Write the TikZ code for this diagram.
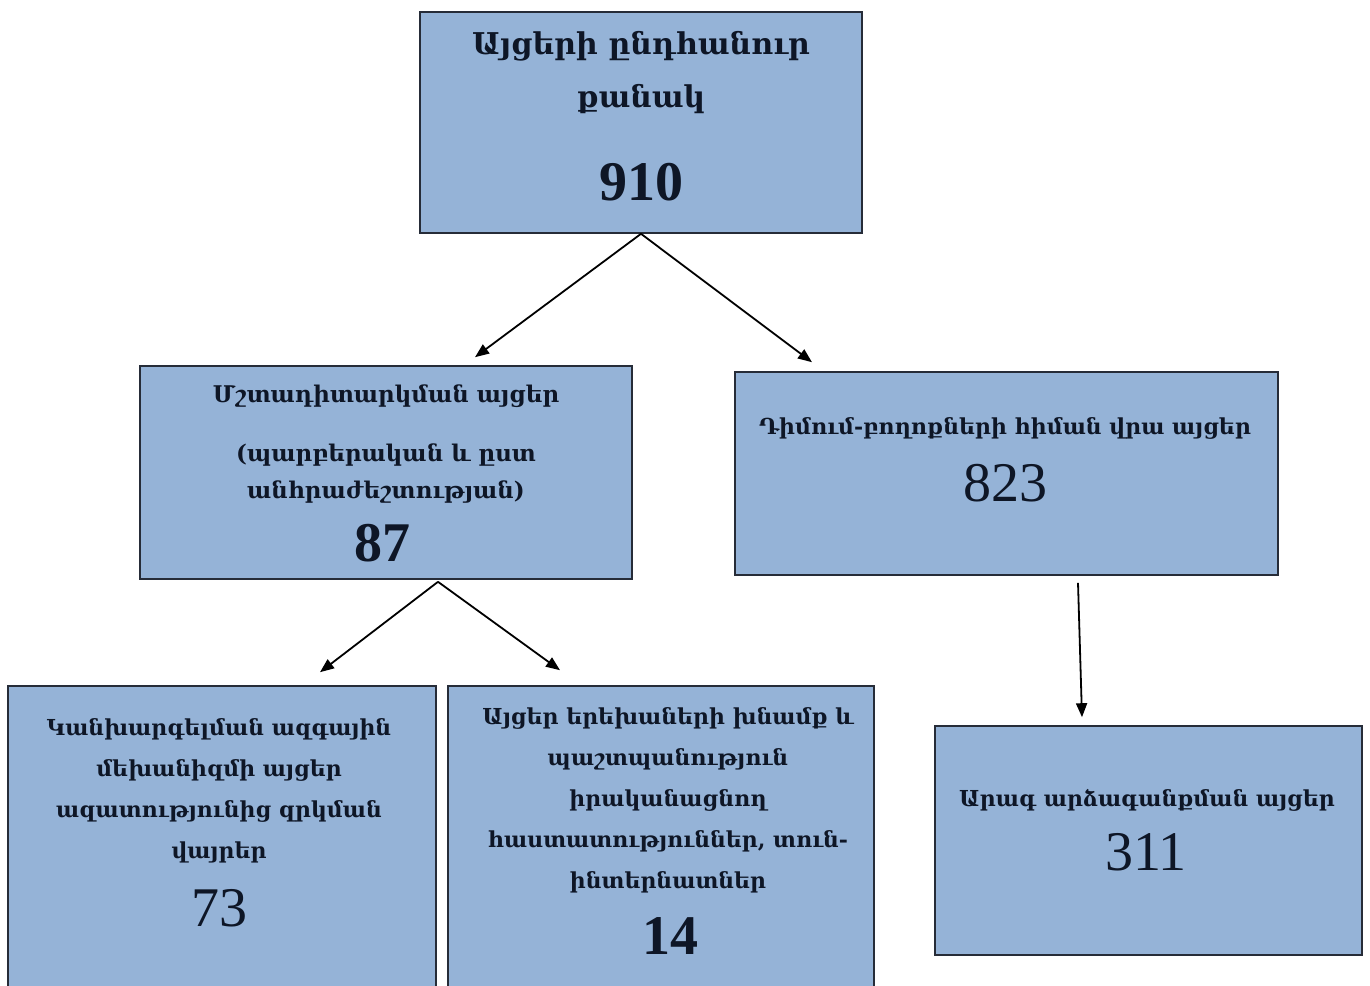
\documentclass[tikz,border=0pt]{standalone}
\usepackage{fontspec}
\setmainfont{DejaVu Serif}
\newfontfamily\numfont{Liberation Serif}
\usepackage{xcolor}
\definecolor{boxblue}{RGB}{149,179,215}
\definecolor{boxline}{RGB}{38,44,56}
\definecolor{inkblue}{RGB}{14,22,38}
\usetikzlibrary{arrows.meta, positioning}

\begin{document}
\begin{tikzpicture}[x=1pt, y=-1pt,
  box/.style={draw=boxline, line width=1.6pt, fill=boxblue, inner sep=0pt},
  txt/.style={align=center, text=inkblue, inner sep=0pt, font=\bfseries\fontsize{22}{41}\selectfont},
  num/.style={text=inkblue, inner sep=0pt, font=\numfont\bfseries\fontsize{56}{60}\selectfont},
  numlight/.style={num, font=\numfont\mdseries\fontsize{56}{60}\selectfont},
  arr/.style={-{Triangle[length=14pt, width=11pt]}, line width=1.8pt},
]
  \clip (0,0) rectangle (1370,985);

  % boxes
  \node[box, minimum width=442pt, minimum height=221pt] (total) at (641,122.5) {};
  \node[box, minimum width=492pt, minimum height=213pt] (monit) at (386,472.5) {};
  \node[box, minimum width=543pt, minimum height=203pt] (compl) at (1006.5,473.5) {};
  \node[box, minimum width=428pt, minimum height=314pt] (npm) at (222,843) {};
  \node[box, minimum width=426pt, minimum height=314pt] (child) at (661,843) {};
  \node[box, minimum width=427pt, minimum height=229pt] (rapid) at (1148.5,840.5) {};

  % texts
  \node[txt, font=\bfseries\fontsize{30}{53}\selectfont] (total-t) at (641,73) {Այցերի ընդհանուր\\քանակ};
  \node[num] (total-n) at (641,182) {910};

  \node[txt, font=\bfseries\fontsize{23}{37}\selectfont] (monit-t) at (386,444) {Մշտադիտարկման այցեր\\[22pt](պարբերական և ըստ\\անհրաժեշտության)};
  \node[num] (monit-n) at (382,543) {87};

  \node[txt] (compl-t) at (1005,428) {Դիմում-բողոքների հիման վրա այցեր};
  \node[numlight] (compl-n) at (1005,483) {823};

  \node[txt] (npm-t) at (219,791) {Կանխարգելման ազգային\\մեխանիզմի այցեր\\ազատությունից զրկման\\վայրեր};
  \node[numlight] (npm-n) at (219,908) {73};

  \node[txt] (child-t) at (668,800) {Այցեր երեխաների խնամք և\\պաշտպանություն\\իրականացնող\\հաստատություններ, տուն-\\ինտերնատներ};
  \node[num] (child-n) at (670,936) {14};

  \node[txt] (rapid-t) at (1147,800) {Արագ արձագանքման այցեր};
  \node[numlight] (rapid-n) at (1146,852) {311};

  % arrows
  \draw[arr] (total.south) -- ([shift={(89,-8)}]monit.north);
  \draw[arr] (total.south) -- ([shift={(-194.5,-9)}]compl.north);
  \draw[arr] ([shift={(52,2)}]monit.south) -- ([shift={(98,-13)}]npm.north);
  \draw[arr] ([shift={(52,2)}]monit.south) -- ([shift={(-101,-15)}]child.north);
  \draw[arr] ([shift={(71.5,7)}]compl.south) -- ([shift={(-66.5,-8)}]rapid.north);
\end{tikzpicture}
\end{document}
